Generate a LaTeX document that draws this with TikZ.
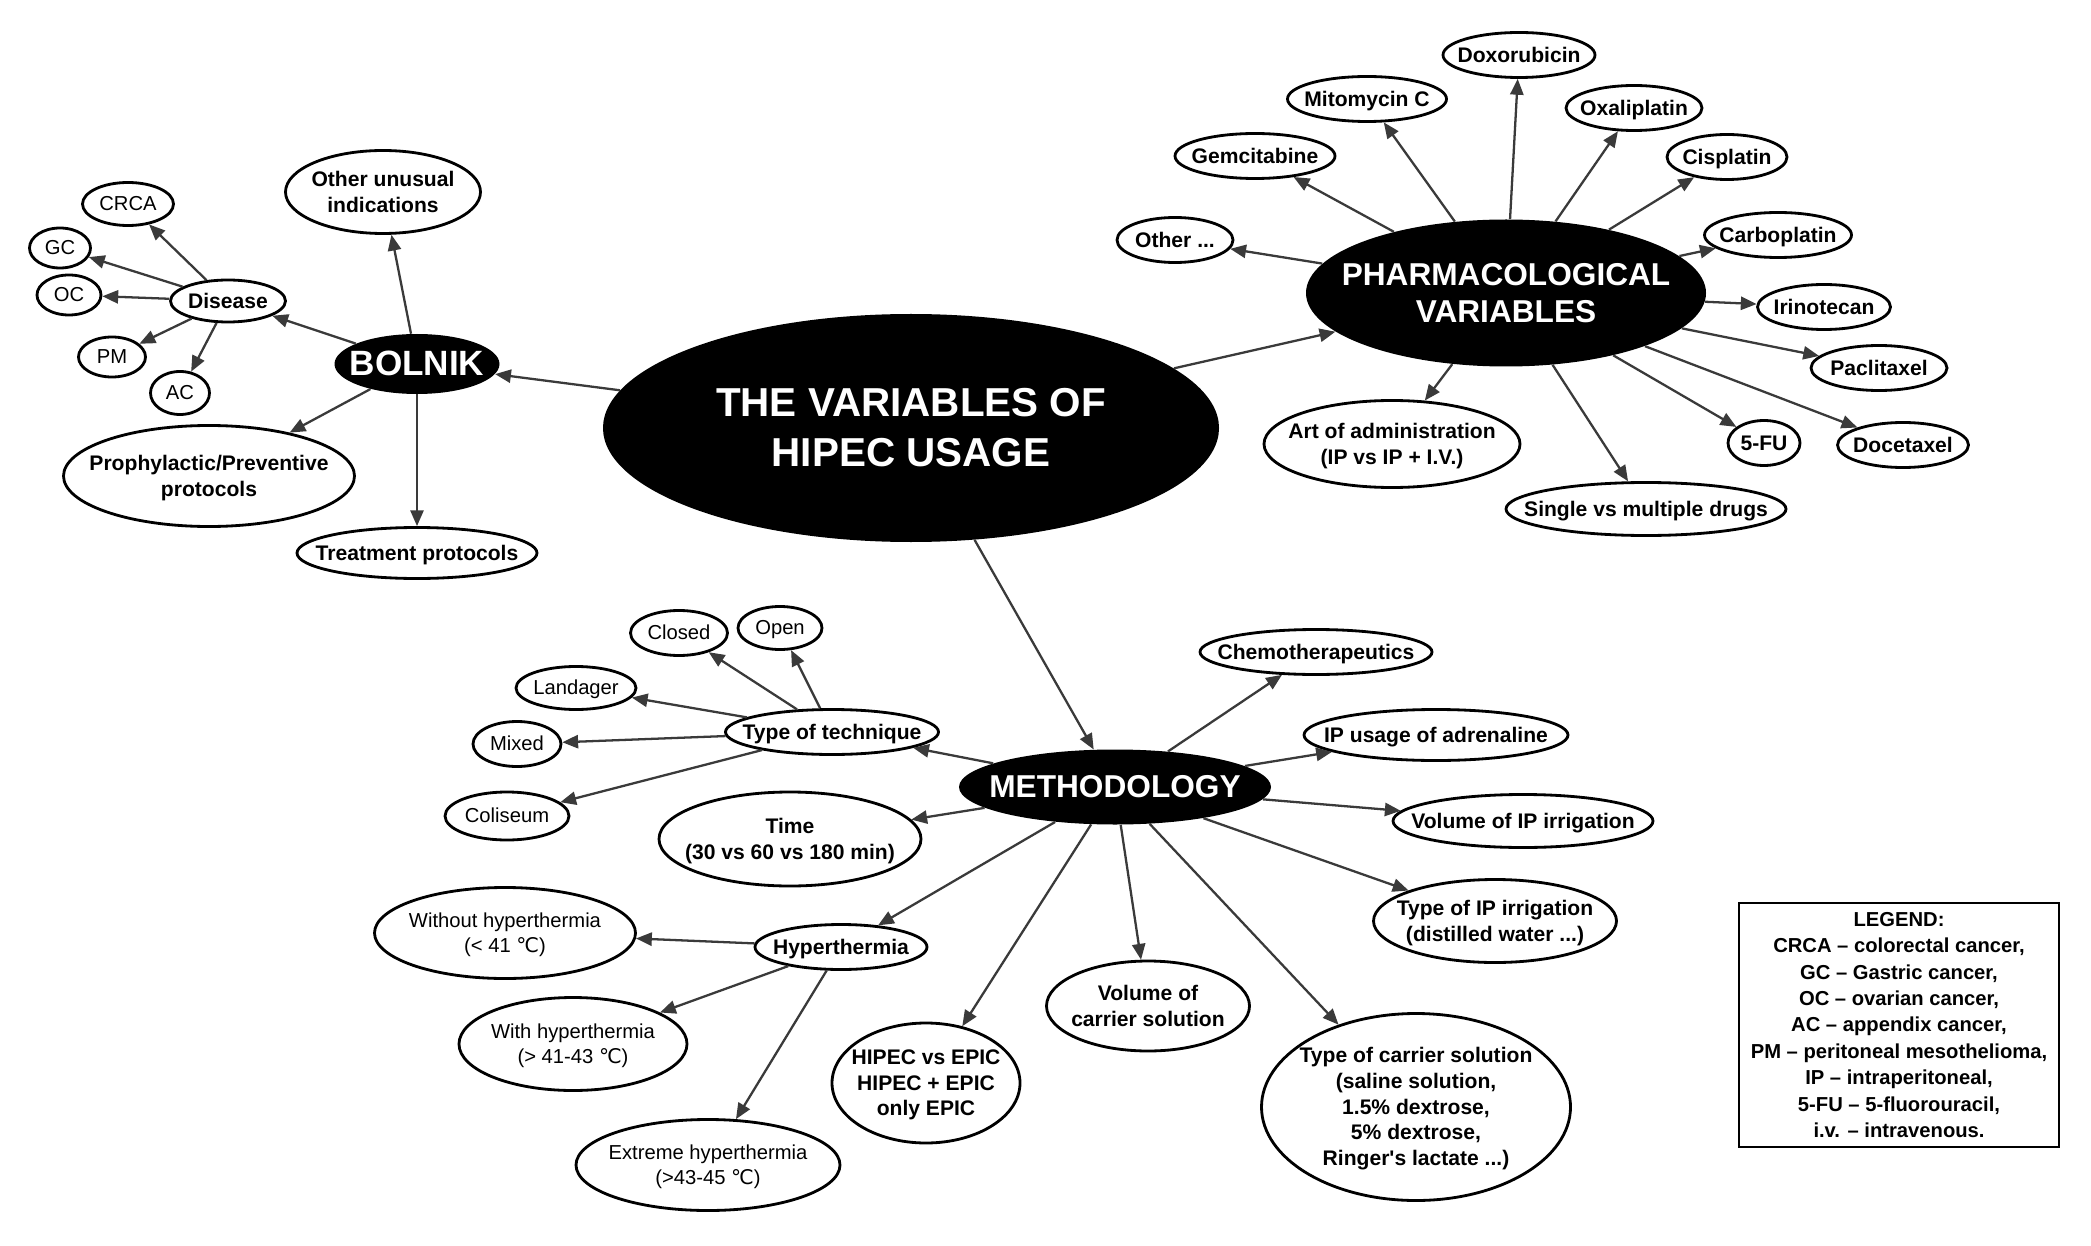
\documentclass[tikz,border=0pt]{standalone}
\usepackage{fontspec}
\setmainfont{Liberation Sans}
\newfontfamily\dejavu{DejaVu Sans}
\usetikzlibrary{arrows.meta, shapes.geometric}
\definecolor{inkgray}{HTML}{3A3A3A}

% text sits centred in the oval without widening it
\newcommand{\ovaltext}[1]{\smash{\makebox[0pt]{\raisebox{-0.35em}{\begin{tabular}{@{}c@{}}#1\end{tabular}}}}}
\newcommand{\degC}{{\dejavu ℃}}

\begin{document}
\begin{tikzpicture}[x=0.02cm, y=-0.02cm,
  >={Triangle[length=9pt, width=7.5pt]},
  oval/.style 2 args={ellipse, draw=black, line width=1.6pt, fill=white, inner sep=0pt,
    minimum width=#1*0.02cm, minimum height=#2*0.02cm,
    font=\fontsize{12}{14.6}\selectfont\bfseries},
  plain/.style={font=\fontsize{11.5}{14.6}\selectfont},
  hub/.style 2 args={ellipse, fill=black, text=white, inner sep=0pt,
    minimum width=#1*0.02cm, minimum height=#2*0.02cm},
  link/.style={->, draw=inkgray, line width=1.3pt}]

% Canvas (pixel grid of the reference, y downwards)
\fill[white] (0,0) rectangle (2091,1246);
\useasboundingbox (0,0) rectangle (2091,1246);

% Hubs
\node[hub={616}{228}, font=\fontsize{23}{28.8}\selectfont\bfseries] (ctr) at (911,428)
  {\ovaltext{THE VARIABLES OF\\HIPEC USAGE}};
\node[hub={165}{60}, font=\fontsize{20}{24}\selectfont\bfseries] (bolnik) at (417,364)
  {\ovaltext{BOLNIK}};
\node[hub={400}{147}, font=\fontsize{18}{21}\selectfont\bfseries] (pharm) at (1506,293)
  {\ovaltext{PHARMACOLOGICAL\\VARIABLES}};
\node[hub={312}{75}, font=\fontsize{18}{21}\selectfont\bfseries] (meth) at (1115,787)
  {\ovaltext{METHODOLOGY}};

% Bolnik branch
\node[oval={115}{42}] (disease) at (228,301) {\ovaltext{Disease}};
\node[oval={91}{43}, plain] (crca) at (128,204) {\ovaltext{CRCA}};
\node[oval={61}{40}, plain] (gc) at (60,248) {\ovaltext{GC}};
\node[oval={64}{40}, plain] (oc) at (69,295) {\ovaltext{OC}};
\node[oval={67}{40}, plain] (pm) at (112,357) {\ovaltext{PM}};
\node[oval={59}{43}, plain] (ac) at (180,393) {\ovaltext{AC}};
\node[oval={195}{83}] (otherind) at (383,192) {\ovaltext{Other unusual\\indications}};
\node[oval={291}{101}] (proph) at (209,476) {\ovaltext{Prophylactic/Preventive\\protocols}};
\node[oval={240}{51}] (treat) at (417,553) {\ovaltext{Treatment protocols}};

% Pharmacological branch
\node[oval={152}{45}] (doxo) at (1519,55) {\ovaltext{Doxorubicin}};
\node[oval={159}{45}] (mito) at (1367,99) {\ovaltext{Mitomycin C}};
\node[oval={136}{45}] (oxali) at (1634,108) {\ovaltext{Oxaliplatin}};
\node[oval={160}{45}] (gemci) at (1255,156) {\ovaltext{Gemcitabine}};
\node[oval={120}{45}] (cispl) at (1727,157) {\ovaltext{Cisplatin}};
\node[oval={116}{45}] (otherdrug) at (1175,240) {\ovaltext{Other ...}};
\node[oval={147}{45}] (carbo) at (1778,235) {\ovaltext{Carboplatin}};
\node[oval={133}{45}] (irino) at (1824,307) {\ovaltext{Irinotecan}};
\node[oval={136}{45}] (pacli) at (1879,368) {\ovaltext{Paclitaxel}};
\node[oval={131}{45}] (doce) at (1903,445) {\ovaltext{Docetaxel}};
\node[oval={72}{45}] (fu) at (1764,443) {\ovaltext{5-FU}};
\node[oval={280}{53}] (single) at (1646,509) {\ovaltext{Single vs multiple drugs}};
\node[oval={256}{87}] (art) at (1392,444) {\ovaltext{Art of administration\\(IP vs IP + I.V.)}};

% Methodology branch
\node[oval={213}{45}] (tech) at (832,732) {\ovaltext{Type of technique}};
\node[oval={97}{45}, plain] (closed) at (679,633) {\ovaltext{Closed}};
\node[oval={84}{43}, plain] (open) at (780,628) {\ovaltext{Open}};
\node[oval={120}{43}, plain] (landager) at (576,688) {\ovaltext{Landager}};
\node[oval={88}{45}, plain] (mixed) at (517,744) {\ovaltext{Mixed}};
\node[oval={124}{48}, plain] (coliseum) at (507,816) {\ovaltext{Coliseum}};
\node[oval={262}{94}] (time) at (790,839) {\ovaltext{Time\\(30 vs 60 vs 180 min)}};
\node[oval={232}{45}] (chemo) at (1316,652) {\ovaltext{Chemotherapeutics}};
\node[oval={264}{51}] (adren) at (1436,735) {\ovaltext{IP usage of adrenaline}};
\node[oval={260}{53}] (volirr) at (1523,821) {\ovaltext{Volume of IP irrigation}};
\node[oval={243}{83}] (typeirr) at (1495,921) {\ovaltext{Type of IP irrigation\\(distilled water ...)}};
\node[oval={309}{187}] (typecar) at (1416,1107)
  {\ovaltext{Type of carrier solution\\(saline solution,\\1.5\% dextrose,\\5\% dextrose,\\Ringer\textquotesingle s lactate ...)}};
\node[oval={203}{90}] (volcar) at (1148,1006) {\ovaltext{Volume of\\carrier solution}};
\node[oval={188}{120}] (hipec) at (926,1083) {\ovaltext{HIPEC vs EPIC\\HIPEC + EPIC\\only EPIC}};
\node[oval={172}{45}] (hyper) at (841,947) {\ovaltext{Hyperthermia}};
\node[oval={261}{91}, plain] (without) at (505,933) {\ovaltext{Without hyperthermia\\(< 41 \degC)}};
\node[oval={228}{93}, plain] (with) at (573,1044) {\ovaltext{With hyperthermia\\(> 41-43 \degC)}};
\node[oval={264}{91}, plain] (extreme) at (708,1165) {\ovaltext{Extreme hyperthermia\\(>43-45 \degC)}};

% Legend
\node[draw=black, line width=1.4pt, minimum width=320*0.02cm, minimum height=244*0.02cm,
  align=center, font=\fontsize{11.5}{15}\selectfont\bfseries] (legend) at (1899,1025)
  {LEGEND:\\CRCA – colorectal cancer,\\GC – Gastric cancer,\\OC – ovarian cancer,\\
   AC – appendix cancer,\\PM – peritoneal mesothelioma,\\IP – intraperitoneal,\\
   5-FU – 5-fluorouracil,\\i.v. – intravenous.};

% Connectors
\draw[link] (ctr) -- (bolnik);
\draw[link] (ctr) -- (pharm);
\draw[link] (ctr) -- (meth);

\foreach \kid in {disease, otherind, proph, treat}
  \draw[link] (bolnik) -- (\kid);
\foreach \kid in {crca, gc, oc, pm, ac}
  \draw[link] (disease) -- (\kid);

\foreach \kid in {doxo, mito, oxali, gemci, cispl, otherdrug, carbo, irino, pacli, doce, fu, single, art}
  \draw[link] (pharm) -- (\kid);

\foreach \kid in {tech, time, chemo, adren, volirr, typeirr, typecar, volcar, hipec, hyper}
  \draw[link] (meth) -- (\kid);
\foreach \kid in {closed, open, landager, mixed, coliseum}
  \draw[link] (tech) -- (\kid);
\foreach \kid in {without, with, extreme}
  \draw[link] (hyper) -- (\kid);

\end{tikzpicture}
\end{document}
